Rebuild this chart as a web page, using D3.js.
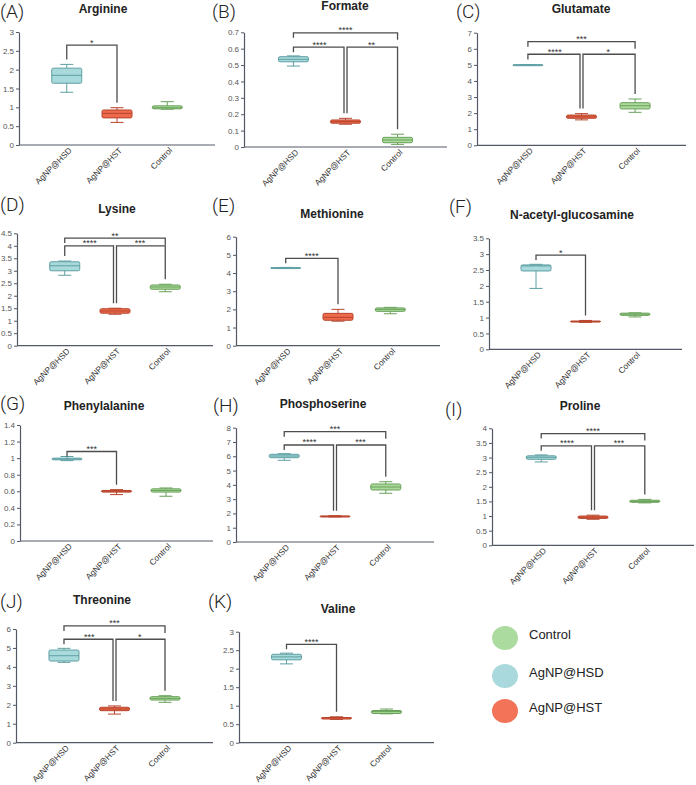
<!DOCTYPE html>
<html>
<head>
<meta charset="utf-8">
<script src="https://cdn.jsdelivr.net/npm/d3@7"></script>
<style>
  body { margin: 0; background: #fff; }
  svg { display: block; }
</style>
</head>
<body>
<div id="chart"></div>
<script>
// groups and panel names
var groups = ["AgNP@HSD", "AgNP@HST", "Control"];
var letters = ["(A)", "(B)", "(C)", "(D)", "(E)", "(F)", "(G)", "(H)", "(I)", "(J)", "(K)"];
var titles = ["Arginine", "Formate", "Glutamate", "Lysine", "Methionine", "N-acetyl-glucosamine",
              "Phenylalanine", "Phosphoserine", "Proline", "Threonine", "Valine"];

// box stats: [min, q1, median, q3, max] for HSD, HST, Control
var arginine      = [[1.40, 1.64, 1.85, 2.04, 2.14], [0.60, 0.72, 0.84, 0.93, 0.99], [0.95, 0.96, 0.99, 1.04, 1.15]];
var formate       = [[0.494, 0.52, 0.535, 0.551, 0.556], [0.139, 0.145, 0.155, 0.165, 0.175], [0.016, 0.026, 0.043, 0.059, 0.078]];
var glutamate     = [[4.98, 4.99, 5.0, 5.01, 5.02], [1.58, 1.68, 1.77, 1.88, 1.97], [2.05, 2.26, 2.46, 2.65, 2.88]];
var lysine        = [[2.82, 3.0, 3.2, 3.36, 3.39], [1.26, 1.30, 1.39, 1.48, 1.50], [2.16, 2.26, 2.35, 2.43, 2.46]];
var methionine    = [[4.27, 4.28, 4.29, 4.30, 4.31], [1.35, 1.40, 1.56, 1.78, 2.0], [1.76, 1.89, 2.0, 2.08, 2.11]];
var nacetyl       = [[1.92, 2.47, 2.63, 2.66, 2.68], [0.85, 0.86, 0.88, 0.89, 0.91], [1.02, 1.07, 1.11, 1.14, 1.15]];
var phenylalanine = [[0.97, 0.98, 0.99, 1.0, 1.02], [0.56, 0.59, 0.60, 0.61, 0.62], [0.54, 0.59, 0.61, 0.63, 0.64]];
var phosphoserine = [[5.72, 5.90, 6.02, 6.14, 6.18], [1.76, 1.78, 1.80, 1.82, 1.84], [3.41, 3.64, 3.85, 4.06, 4.22]];
var proline       = [[2.85, 2.94, 3.01, 3.06, 3.09], [0.89, 0.92, 0.96, 1.0, 1.03], [1.45, 1.47, 1.50, 1.54, 1.57]];
var threonine     = [[4.24, 4.31, 4.59, 4.89, 4.98], [1.51, 1.69, 1.78, 1.87, 1.94], [2.13, 2.25, 2.34, 2.43, 2.48]];
var valine        = [[2.13, 2.24, 2.32, 2.39, 2.42], [0.63, 0.64, 0.67, 0.68, 0.70], [0.78, 0.79, 0.84, 0.87, 0.91]];
var boxes = [arginine, formate, glutamate, lysine, methionine, nacetyl,
             phenylalanine, phosphoserine, proline, threonine, valine];

// y axis max and tick step
var yMax  = [3, 0.7, 7, 4.5, 6, 3.5, 1.4, 8, 4, 6, 3];
var yStep = [0.5, 0.1, 1, 0.5, 1, 0.5, 0.2, 1, 0.5, 1, 0.5];

// significance brackets: groups a-b, bracket height (data units), label
var sigs = [
  [{a: 0, b: 1, y: 2.65, t: "*"}],
  [{a: 0, b: 2, y: 0.697, t: "****"}, {a: 0, b: 1, y: 0.609, t: "****"}, {a: 1, b: 2, y: 0.609, t: "**"}],
  [{a: 0, b: 2, y: 6.44, t: "***"}, {a: 0, b: 1, y: 5.66, t: "****"}, {a: 1, b: 2, y: 5.66, t: "*"}],
  [{a: 0, b: 2, y: 4.31, t: "**"}, {a: 0, b: 1, y: 4.0, t: "****"}, {a: 1, b: 2, y: 4.0, t: "***"}],
  [{a: 0, b: 1, y: 4.81, t: "****"}],
  [{a: 0, b: 1, y: 2.97, t: "*"}],
  [{a: 0, b: 1, y: 1.08, t: "***"}],
  [{a: 0, b: 2, y: 7.72, t: "***"}, {a: 0, b: 1, y: 6.79, t: "****"}, {a: 1, b: 2, y: 6.79, t: "***"}],
  [{a: 0, b: 2, y: 3.82, t: "****"}, {a: 0, b: 1, y: 3.40, t: "****"}, {a: 1, b: 2, y: 3.40, t: "***"}],
  [{a: 0, b: 2, y: 6.16, t: "***"}, {a: 0, b: 1, y: 5.46, t: "***"}, {a: 1, b: 2, y: 5.46, t: "*"}],
  [{a: 0, b: 1, y: 2.66, t: "****"}]
];

var legendOrder = ["Control", "AgNP@HSD", "AgNP@HST"];

// colours
var fill   = {"AgNP@HSD": "#a8dadc", "AgNP@HST": "#ee6a4c", "Control": "#abd99c"};
var stroke = {"AgNP@HSD": "#5e9fa3", "AgNP@HST": "#b8452c", "Control": "#69a25a"};
var dot    = {"AgNP@HSD": "#a9d9dc", "AgNP@HST": "#f37359", "Control": "#acdba0"};

// panel frames in page pixels: axis x, axis end, baseline, top, title pos, letter pos
var frames = [
  {x0: 19,  x1: 215, y0: 145,   y1: 32,    tx: 103, ty: 13,  lx: 0,   ly: 18},
  {x0: 244, x1: 447, y0: 147,   y1: 32.3,  tx: 345, ty: 10,  lx: 212, ly: 18},
  {x0: 477, x1: 686, y0: 145.3, y1: 32.7,  tx: 581, ty: 13,  lx: 456, ly: 18},
  {x0: 17,  x1: 213, y0: 345.7, y1: 233.3, tx: 117, ty: 213, lx: 0,   ly: 211},
  {x0: 236, x1: 440, y0: 345.7, y1: 236.7, tx: 332, ty: 218, lx: 212, ly: 212},
  {x0: 489, x1: 682, y0: 349.3, y1: 238.3, tx: 572, ty: 219, lx: 449, ly: 213},
  {x0: 20,  x1: 213, y0: 541,   y1: 425,   tx: 104, ty: 410, lx: 0,   ly: 410},
  {x0: 236, x1: 434, y0: 542,   y1: 427.7, tx: 323, ty: 408, lx: 213, ly: 412},
  {x0: 492, x1: 694, y0: 545.3, y1: 428.3, tx: 580, ty: 410, lx: 445, ly: 416},
  {x0: 16,  x1: 213, y0: 742.7, y1: 629,   tx: 102, ty: 604, lx: 0,   ly: 608},
  {x0: 239, x1: 434, y0: 742.7, y1: 631.7, tx: 338, ty: 613, lx: 208, ly: 608}
];

var W = 696, H = 785;
var svg = d3.select("#chart").append("svg")
    .attr("width", W)
    .attr("height", H)
    .style("font-family", "'Liberation Sans', Arial, sans-serif");

var axisColor = "#525866";
var boxW = 30, capW = 13;

boxes.forEach(function(data, p) {
  var f = frames[p];
  var g = svg.append("g");

  var x = d3.scalePoint().domain(groups).range([f.x0, f.x1]).padding(0.95);
  var y = d3.scaleLinear().domain([0, yMax[p]]).range([f.y0, f.y1]);

  // letter and title
  g.append("text")
      .attr("x", f.lx).attr("y", f.ly)
      .style("font-family", "Roboto, sans-serif")
      .style("font-weight", 300)
      .style("font-size", "19px")
      .attr("fill", "#222")
      .text(letters[p]);
  g.append("text")
      .attr("x", f.tx).attr("y", f.ty)
      .attr("text-anchor", "middle")
      .style("font-weight", "bold")
      .style("font-size", "12px")
      .attr("fill", "#222")
      .text(titles[p]);

  // y axis
  var ticks = d3.range(0, yMax[p] + yStep[p] / 2, yStep[p]);
  var ya = g.append("g")
      .attr("transform", "translate(" + f.x0 + ",0)")
      .call(d3.axisLeft(y).tickValues(ticks).tickSize(3).tickSizeOuter(0).tickPadding(2)
            .tickFormat(function(d) { return String(+d.toFixed(2)); }));
  ya.select(".domain").attr("stroke", axisColor).attr("stroke-width", 1.2);
  ya.selectAll(".tick line").attr("stroke", axisColor);
  ya.selectAll(".tick text").attr("fill", "#555").style("font-size", "8px")
      .style("font-family", "'Liberation Sans', Arial, sans-serif");

  // x axis
  var xa = g.append("g")
      .attr("transform", "translate(0," + f.y0 + ")")
      .call(d3.axisBottom(x).tickSize(0).tickSizeOuter(0));
  xa.select(".domain").attr("stroke", axisColor).attr("stroke-width", 1.2)
      .attr("d", "M" + f.x0 + ",0H" + f.x1);
  xa.selectAll(".tick text")
      .attr("x", 0).attr("y", 0).attr("dy", "0.35em")
      .attr("transform", "translate(3,4) rotate(-45)")
      .attr("text-anchor", "end")
      .attr("fill", "#333")
      .style("font-size", "8.3px")
      .style("font-family", "'Liberation Sans', Arial, sans-serif");

  // boxes
  var bx = g.selectAll(".bx").data(data).enter().append("g")
      .attr("transform", function(d, i) { return "translate(" + x(groups[i]) + ",0)"; });
  bx.append("line")
      .attr("y1", function(d) { return y(d[0]); })
      .attr("y2", function(d) { return y(d[4]); })
      .attr("stroke", function(d, i) { return stroke[groups[i]]; })
      .attr("stroke-width", 1);
  bx.selectAll(".cap").data(function(d, i) { return [{v: d[0], c: stroke[groups[i]]}, {v: d[4], c: stroke[groups[i]]}]; })
    .enter().append("line")
      .attr("x1", -capW / 2).attr("x2", capW / 2)
      .attr("y1", function(d) { return y(d.v); })
      .attr("y2", function(d) { return y(d.v); })
      .attr("stroke", function(d) { return d.c; })
      .attr("stroke-width", 1);
  bx.append("rect")
      .attr("x", -boxW / 2)
      .attr("width", boxW)
      .attr("y", function(d) { return y(d[3]); })
      .attr("height", function(d) { return Math.max(1, y(d[1]) - y(d[3])); })
      .attr("rx", 1.5)
      .attr("fill", function(d, i) { return fill[groups[i]]; })
      .attr("stroke", function(d, i) { return stroke[groups[i]]; })
      .attr("stroke-width", 1);
  bx.append("line")
      .attr("x1", -boxW / 2).attr("x2", boxW / 2)
      .attr("y1", function(d) { return y(d[2]); })
      .attr("y2", function(d) { return y(d[2]); })
      .attr("stroke", function(d, i) { return stroke[groups[i]]; })
      .attr("stroke-width", 1);

  // significance brackets
  var s = sigs[p];
  var many = s.length > 1;
  s.forEach(function(b) {
    var yb = y(b.y);
    var top = many && b.a === 0 && b.b === 2;
    var xa_ = x(groups[b.a]), xb_ = x(groups[b.b]);
    if (many && !top) {
      if (b.b === 1) xb_ -= 1.5;
      if (b.a === 1) xa_ += 1.5;
    }
    var la, lb;
    if (top) {
      la = yb + 5; lb = yb + 7;
    } else {
      la = Math.max(yb + 5, y(data[b.a][4]) - 5);
      lb = Math.max(yb + 5, y(data[b.b][4]) - 5);
    }
    g.append("path")
        .attr("d", "M" + xa_ + "," + la + "V" + yb + "H" + xb_ + "V" + lb)
        .attr("fill", "none")
        .attr("stroke", "#4d4d4d")
        .attr("stroke-width", 1.3);
    g.append("text")
        .attr("x", (x(groups[b.a]) + x(groups[b.b])) / 2)
        .attr("y", yb + 0.5)
        .attr("text-anchor", "middle")
        .style("font-size", "9px")
        .attr("fill", "#333")
        .text(b.t);
  });
});

// legend
var lg = svg.append("g").attr("transform", "translate(505,638)");
var li = lg.selectAll("g").data(legendOrder).enter().append("g")
    .attr("transform", function(d, i) { return "translate(0," + [0, 38, 73][i] + ")"; });
li.append("ellipse").attr("rx", 13).attr("ry", 12)
    .attr("fill", function(d) { return dot[d]; });
li.append("text")
    .attr("x", 24).attr("y", -4).attr("dy", "0.35em")
    .style("font-size", "13px")
    .attr("fill", "#222")
    .text(function(d) { return d; });
</script>
</body>
</html>
